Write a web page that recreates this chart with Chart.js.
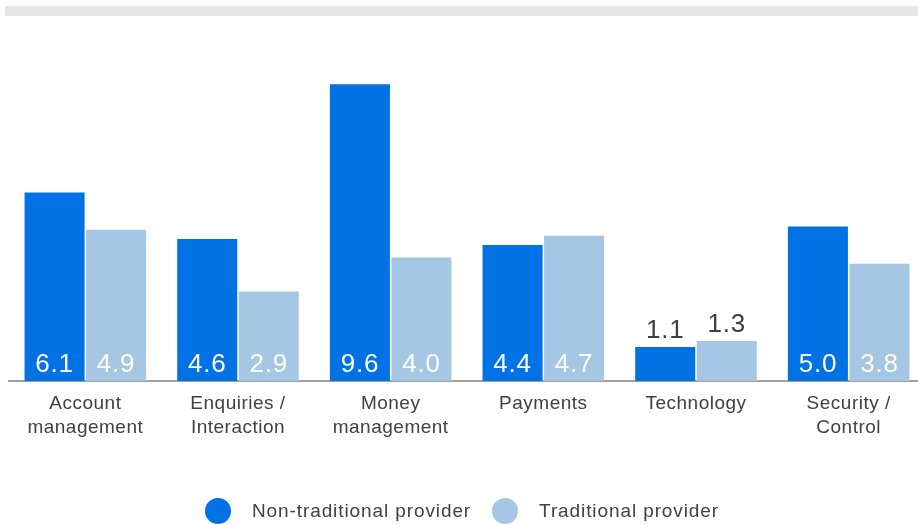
<!DOCTYPE html>
<html>
<head>
<meta charset="utf-8">
<script src="https://cdn.jsdelivr.net/npm/chart.js@4.4.1/dist/chart.umd.min.js"></script>
<style>
  html, body { margin: 0; padding: 0; background: #fff; overflow: hidden; }
  #wrap { position: relative; width: 918px; height: 524px; overflow: hidden; }
  #topBar { position: absolute; left: 5px; top: 6px; width: 913px; height: 10px; background: #e6e6e6; }
  #box { position: absolute; left: 0; top: 0; width: 926px; height: 524px; }
  #legend { position: absolute; left: 205px; top: 498px; display: flex; align-items: center;
            font-family: "Liberation Sans", Arial, sans-serif; font-size: 19px; letter-spacing: 0.9px; color: #404040; }
  .item { display: flex; align-items: center; margin-right: 21px; }
  .dot { width: 26px; height: 26px; border-radius: 50%; margin-right: 21px; }
</style>
</head>
<body>
<div id="wrap">
  <div id="topBar"></div>
  <div id="box"><canvas id="chart" width="926" height="524"></canvas></div>
  <div id="legend"></div>
</div>
<script>
// Categories and the two provider series
const categories = [
  ['Account', 'management'],
  ['Enquiries /', 'Interaction'],
  ['Money', 'management'],
  'Payments',
  'Technology',
  ['Security /', 'Control']
];
const seriesNames = ['Non-traditional provider', 'Traditional provider'];
const nonTraditional = [6.1, 4.6, 9.6, 4.4, 1.1, 5.0];
const traditional = [4.9, 2.9, 4.0, 4.7, 1.3, 3.8];

const COLORS = ['#0072e3', '#a5c7e3'];
const FONT = '"Liberation Sans", Arial, sans-serif';
const TEXT = '#404040';

// Slightly looser tracking for all canvas text
const tracking = {
  id: 'tracking',
  beforeDraw(chart) { chart.ctx.letterSpacing = '0.5px'; }
};

// Value labels: white inside the bar foot, dark above short bars
const valueLabels = {
  id: 'valueLabels',
  afterDatasetsDraw(chart) {
    const ctx = chart.ctx;
    ctx.save();
    ctx.font = '26px ' + FONT;
    ctx.letterSpacing = '0.8px';
    ctx.textAlign = 'center';
    ctx.textBaseline = 'alphabetic';
    chart.data.datasets.forEach((ds, i) => {
      chart.getDatasetMeta(i).data.forEach((bar, j) => {
        const h = bar.base - bar.y;
        const txt = ds.data[j].toFixed(1);
        if (h > 55) {
          ctx.fillStyle = '#ffffff';
          ctx.fillText(txt, bar.x, bar.base - 9);
        } else {
          ctx.fillStyle = TEXT;
          ctx.fillText(txt, bar.x, bar.y - 9);
        }
      });
    });
    ctx.restore();
  }
};

const chart = new Chart(document.getElementById('chart'), {
  type: 'bar',
  data: {
    labels: categories,
    datasets: [
      { label: seriesNames[0], data: nonTraditional, backgroundColor: COLORS[0] },
      { label: seriesNames[1], data: traditional, backgroundColor: COLORS[1] }
    ]
  },
  options: {
    responsive: false,
    animation: false,
    layout: { padding: { top: 72, left: 9, right: 1, bottom: 81 } },
    datasets: { bar: { categoryPercentage: 0.806, barPercentage: 0.976 } },
    scales: {
      x: {
        grid: { display: false },
        border: { color: '#a0a0a0', width: 2 },
        ticks: { color: TEXT, padding: 3, font: { family: FONT, size: 19, lineHeight: 1.26 }, maxRotation: 0 }
      },
      y: { display: false, min: 0, max: 10 }
    },
    plugins: { legend: { display: false }, tooltip: { enabled: false } }
  },
  plugins: [tracking, valueLabels]
});

// Legend built from the datasets
const legend = document.getElementById('legend');
chart.data.datasets.forEach(ds => {
  const item = document.createElement('div');
  item.className = 'item';
  const dot = document.createElement('span');
  dot.className = 'dot';
  dot.style.background = ds.backgroundColor;
  const label = document.createElement('span');
  label.textContent = ds.label;
  item.appendChild(dot);
  item.appendChild(label);
  legend.appendChild(item);
});
</script>
</body>
</html>
